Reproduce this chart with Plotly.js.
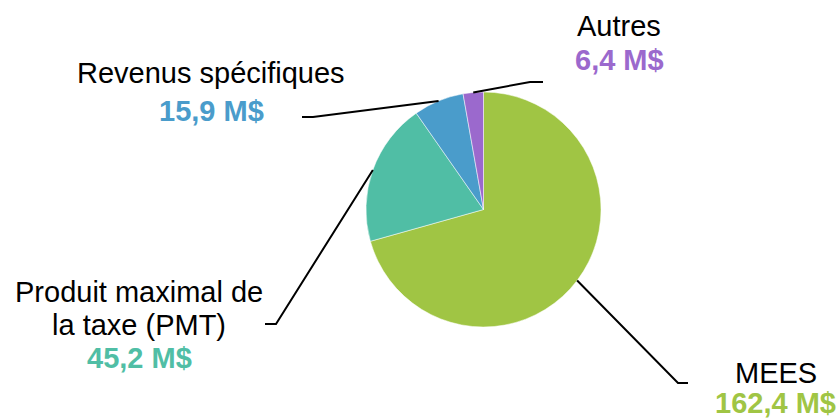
<!DOCTYPE html>
<html>
<head>
<meta charset="utf-8">
<script src="https://cdn.plot.ly/plotly-3.0.1.min.js"></script>
<style>html,body{margin:0;padding:0;background:#fff;}</style>
</head>
<body>
<div id="chart" style="width:840px;height:420px;"></div>
<script>
// ---- data ----
var categories = ['MEES', 'Produit maximal de la taxe (PMT)', 'Revenus spécifiques', 'Autres'];
var nameLines = [['MEES'], ['Produit maximal de', 'la taxe (PMT)'], ['Revenus spécifiques'], ['Autres']];
var values = [162.4, 45.2, 15.9, 6.4];
var unit = ' M$';

// ---- styles / layout ----
var colors = ['#A0C544', '#50BEA5', '#4A9CCB', '#9B69CD'];
var W = 840, H = 420;
var cx = 483.5, cy = 209.5, R = 117.5;          // pie centre and radius (px)
// label block: centre x, centre y of first line (px), line step (px)
var labelCX = [775.5, 139, 211, 619];
var labelCY = [373.3, 291.7, 73.3, 25.7];
var lineStep = [29.7, 33, 37.7, 34.8];
// leader elbow and end points (px)
var elbow = [[678, 383], [276, 324], [313, 117], [530, 82]];
var lineEnd = [[688, 383], [265, 324], [302, 117], [543, 82]];

function px(x) { return x / W; }
function py(y) { return 1 - y / H; }
function fmt(v) { return v.toFixed(1).replace('.', ',') + unit; }

var total = values.reduce(function (a, b) { return a + b; }, 0);

var trace = {
  type: 'pie',
  labels: categories,
  values: values,
  sort: false,
  direction: 'clockwise',
  rotation: 0,
  textinfo: 'none',
  hoverinfo: 'label+value',
  marker: { colors: colors, line: { color: '#ffffff', width: 0.5 } },
  domain: { x: [px(cx - R), px(cx + R)], y: [py(cy + R), py(cy - R)] },
  showlegend: false
};

var annotations = [];
var shapes = [];
var cum = 0;
var font = 'Arial, "Liberation Sans", sans-serif';
var fsize = 29;
for (var i = 0; i < values.length; i++) {
  var mid = 2 * Math.PI * (cum + values[i] / 2) / total;
  cum += values[i];
  var sx = cx + R * Math.sin(mid);
  var sy = cy - R * Math.cos(mid);
  shapes.push({
    type: 'path', xref: 'paper', yref: 'paper',
    path: 'M ' + px(sx) + ',' + py(sy) + ' L ' + px(elbow[i][0]) + ',' + py(elbow[i][1]) +
          ' L ' + px(lineEnd[i][0]) + ',' + py(lineEnd[i][1]),
    line: { color: '#000000', width: 2 }
  });
  var lines = nameLines[i];
  for (var k = 0; k < lines.length; k++) {
    annotations.push({
      xref: 'paper', yref: 'paper', showarrow: false,
      x: px(labelCX[i]), y: py(labelCY[i] + k * lineStep[i]),
      xanchor: 'center', yanchor: 'middle',
      text: lines[k],
      font: { family: font, size: fsize, color: '#000000' }
    });
  }
  annotations.push({
    xref: 'paper', yref: 'paper', showarrow: false,
    x: px(labelCX[i]), y: py(labelCY[i] + lines.length * lineStep[i]),
    xanchor: 'center', yanchor: 'middle',
    text: '<b>' + fmt(values[i]) + '</b>',
    font: { family: font, size: fsize, color: colors[i] }
  });
}

var layout = {
  width: W, height: H,
  margin: { l: 0, r: 0, t: 0, b: 0 },
  paper_bgcolor: '#ffffff',
  plot_bgcolor: '#ffffff',
  showlegend: false,
  annotations: annotations,
  shapes: shapes
};

Plotly.newPlot('chart', [trace], layout, { displayModeBar: false, staticPlot: true });
</script>
</body>
</html>
